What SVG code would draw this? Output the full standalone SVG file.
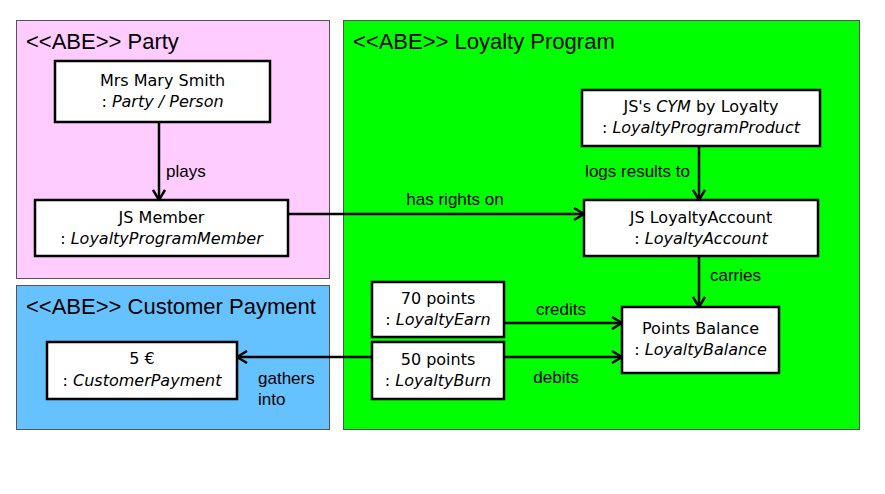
<svg xmlns="http://www.w3.org/2000/svg" width="885" height="494" viewBox="0 0 885 494">
  <style>
    .pkg { stroke: #555555; stroke-width: 1; }
    .pkg-title { font-family: "Liberation Sans", Arial, sans-serif; font-size: 22px; fill: #000; }
    .obj { fill: #ffffff; stroke: #000; stroke-width: 2.5; }
    .obj-name { font-family: "DejaVu Sans", sans-serif; font-size: 16px; fill: #000; text-anchor: middle; }
    .obj-type { font-style: italic; }
    .edge { fill: none; stroke: #000; stroke-width: 2.5; marker-end: url(#open-arrow); }
    .edge-label { font-family: "Liberation Sans", Arial, sans-serif; font-size: 17px; fill: #000; }
  </style>
  <defs>
    <marker id="open-arrow" viewBox="0 0 12 14" refX="11" refY="7" markerWidth="12" markerHeight="14" markerUnits="userSpaceOnUse" orient="auto">
      <path d="M1,1 L11,7 L1,13" fill="none" stroke="#000" stroke-width="2.5"/>
    </marker>
  </defs>
  <rect width="885" height="494" fill="#ffffff"/>

  <!-- packages -->
  <g id="pkg-party">
    <rect class="pkg" x="16.5" y="20.5" width="313" height="258" fill="#ffccff"/>
    <text class="pkg-title" x="26" y="49">&lt;&lt;ABE&gt;&gt; Party</text>
  </g>
  <g id="pkg-loyalty">
    <rect class="pkg" x="343.5" y="20.5" width="516" height="409" fill="#00ff00"/>
    <text class="pkg-title" x="353" y="49">&lt;&lt;ABE&gt;&gt; Loyalty Program</text>
  </g>
  <g id="pkg-payment">
    <rect class="pkg" x="16.5" y="285.5" width="313" height="144" fill="#66c2ff"/>
    <text class="pkg-title" x="26" y="314">&lt;&lt;ABE&gt;&gt; Customer Payment</text>
  </g>

  <!-- connectors -->
  <g id="connectors">
    <path class="edge" d="M159,122 V200"/>
    <text class="edge-label" x="166" y="177">plays</text>

    <path class="edge" d="M288,214 H584"/>
    <text class="edge-label" x="455" y="205" text-anchor="middle">has rights on</text>

    <path class="edge" d="M699,146 V200"/>
    <text class="edge-label" x="690" y="177" text-anchor="end">logs results to</text>

    <path class="edge" d="M699,256 V307"/>
    <text class="edge-label" x="710" y="281">carries</text>

    <path class="edge" d="M504,323 H622"/>
    <text class="edge-label" x="561" y="315" text-anchor="middle">credits</text>

    <path class="edge" d="M504,357 H622"/>
    <text class="edge-label" x="556" y="383" text-anchor="middle">debits</text>

    <path class="edge" d="M372,357 H237"/>
    <text class="edge-label" x="258" y="384">gathers</text>
    <text class="edge-label" x="258" y="405">into</text>
  </g>

  <!-- objects -->
  <g id="mary-smith">
    <rect class="obj" x="55" y="61" width="215" height="61"/>
    <text class="obj-name" x="162.5" y="86">Mrs Mary Smith</text>
    <text class="obj-name" x="162.5" y="107">: <tspan class="obj-type">Party / Person</tspan></text>
  </g>
  <g id="js-member">
    <rect class="obj" x="35" y="200" width="253" height="56"/>
    <text class="obj-name" x="161.5" y="223">JS Member</text>
    <text class="obj-name" x="161.5" y="244">: <tspan class="obj-type">LoyaltyProgramMember</tspan></text>
  </g>
  <g id="cym-product">
    <rect class="obj" x="582" y="90" width="238" height="56"/>
    <text class="obj-name" x="701" y="112">JS's <tspan class="obj-type">CYM</tspan> by Loyalty</text>
    <text class="obj-name" x="701" y="133">: <tspan class="obj-type">LoyaltyProgramProduct</tspan></text>
  </g>
  <g id="loyalty-account">
    <rect class="obj" x="584" y="200" width="234" height="56"/>
    <text class="obj-name" x="701" y="223">JS LoyaltyAccount</text>
    <text class="obj-name" x="701" y="244">: <tspan class="obj-type">LoyaltyAccount</tspan></text>
  </g>
  <g id="earn-70">
    <rect class="obj" x="372" y="282" width="132" height="55"/>
    <text class="obj-name" x="438" y="304">70 points</text>
    <text class="obj-name" x="438" y="325">: <tspan class="obj-type">LoyaltyEarn</tspan></text>
  </g>
  <g id="burn-50">
    <rect class="obj" x="372" y="342" width="132" height="57"/>
    <text class="obj-name" x="438" y="365">50 points</text>
    <text class="obj-name" x="438" y="386">: <tspan class="obj-type">LoyaltyBurn</tspan></text>
  </g>
  <g id="points-balance">
    <rect class="obj" x="622" y="307" width="157" height="66"/>
    <text class="obj-name" x="700.5" y="334">Points Balance</text>
    <text class="obj-name" x="700.5" y="355">: <tspan class="obj-type">LoyaltyBalance</tspan></text>
  </g>
  <g id="payment-5">
    <rect class="obj" x="47" y="342" width="190" height="57"/>
    <text class="obj-name" x="142" y="364">5 €</text>
    <text class="obj-name" x="142" y="386">: <tspan class="obj-type">CustomerPayment</tspan></text>
  </g>
</svg>
